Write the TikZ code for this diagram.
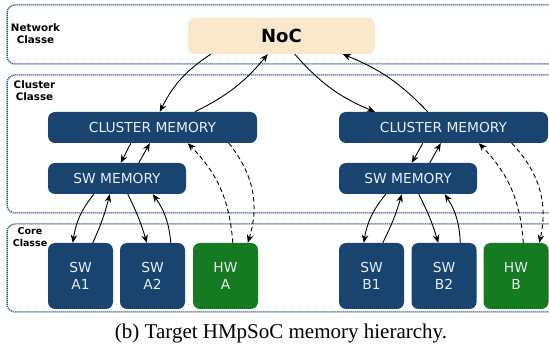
\documentclass[tikz,border=0pt]{standalone}
\usepackage{fontspec}
\setmainfont{DejaVu Sans}
\newfontfamily\capfont{Liberation Serif}
\usetikzlibrary{arrows.meta}
\definecolor{boxblue}{HTML}{18446F}
\definecolor{boxgreen}{HTML}{147B20}
\definecolor{nocfill}{HTML}{F9E8CB}
\definecolor{dotline}{HTML}{2F5887}
\definecolor{boxtext}{HTML}{E6EDF4}
\tikzset{
  classbox/.style={draw=dotline, line width=1.5pt, dash pattern=on 1.1pt off 0.9pt, rounded corners=8pt},
  classlabel/.style={font=\bfseries\fontsize{10.3}{12}\selectfont, align=center, inner sep=0pt},
  membox/.style={fill=boxblue, rounded corners=7pt, text=boxtext, inner sep=0pt,
     font=\fontsize{13.8}{17}\selectfont, align=center},
  hwbox/.style={membox, fill=boxgreen},
  link/.style={-{Stealth[length=8pt,width=6.5pt]}, line width=0.9pt, black},
  dlink/.style={link, dash pattern=on 4.5pt off 3pt},
}
\begin{document}
\begin{tikzpicture}[x=1pt,y=-1pt]
\clip (0,0) rectangle (549,352);
\fill[white] (0,0) rectangle (549,352);
% class boxes
\draw[classbox] (7,5) rectangle (560,64);
\draw[classbox] (7,75) rectangle (560,213);
\draw[classbox] (7,224) rectangle (560,312);
\node[classlabel] (lnet) at (35.5,33.5) {Network\\Classe};
\node[classlabel] (lclu) at (34.5,90.5) {Cluster\\Classe};
\node[classlabel, font=\bfseries\fontsize{9.5}{11.5}\selectfont] (lcor) at (30,237) {Core\\Classe};
% nodes
\node[fill=nocfill, rounded corners=7pt, minimum width=187pt, minimum height=36pt, inner sep=0pt,
      font=\bfseries\fontsize{18}{20}\selectfont] (noc) at (281.5,36) {NoC};
\node[membox, minimum width=209pt, minimum height=31pt] (cmA) at (152.5,127.5) {CLUSTER MEMORY};
\node[membox, minimum width=209pt, minimum height=31pt] (cmB) at (443.5,127.5) {CLUSTER MEMORY};
\node[membox, minimum width=138pt, minimum height=31pt] (smA) at (117,178.5) {SW MEMORY};
\node[membox, minimum width=138pt, minimum height=31pt] (smB) at (408,178.5) {SW MEMORY};
\node[membox, minimum width=65pt, minimum height=66pt] (a1) at (80.5,276) {SW\\A1};
\node[membox, minimum width=65pt, minimum height=66pt] (a2) at (152.5,276) {SW\\A2};
\node[hwbox, minimum width=65pt, minimum height=66pt] (ha) at (225.5,276) {HW\\A};
\node[membox, minimum width=65pt, minimum height=66pt] (b1) at (371.5,276) {SW\\B1};
\node[membox, minimum width=65pt, minimum height=66pt] (b2) at (444,276) {SW\\B2};
\node[hwbox, minimum width=65pt, minimum height=66pt] (hb) at (516,276) {HW\\B};
% NoC <-> cluster memories
\draw[link] ([xshift=23pt]noc.south west) to[bend right=15] ([xshift=112pt]cmA.north west);
\draw[link] ([xshift=147pt]cmA.north west) to[bend right=12] ([xshift=80pt]noc.south west);
\draw[link] ([xshift=107pt]noc.south west) to[bend right=13] ([xshift=36pt]cmB.north west);
\draw[link] ([xshift=89pt]cmB.north west) to[bend right=12] ([xshift=155pt]noc.south west);
% cluster <-> sw memory
\draw[link] ([xshift=83pt]cmA.south west) -- ([xshift=73pt]smA.north west);
\draw[link] ([xshift=91pt]smA.north west) -- ([xshift=102pt]cmA.south west);
\draw[link] ([xshift=84pt]cmB.south west) -- ([xshift=73pt]smB.north west);
\draw[link] ([xshift=91pt]smB.north west) -- ([xshift=102pt]cmB.south west);
% sw memory <-> cores
\draw[link] ([xshift=46pt]smA.south west) to[bend right=15] ([xshift=25pt]a1.north west);
\draw[link] ([xshift=45pt]a1.north west) to[bend right=5] ([xshift=62pt]smA.south west);
\draw[link] ([xshift=80pt]smA.south west) to[bend left=5] ([xshift=27pt]a2.north west);
\draw[link] ([xshift=51pt]a2.north west) to[bend right=15] ([xshift=105pt]smA.south west);
\draw[link] ([xshift=47pt]smB.south west) to[bend right=15] ([xshift=25pt]b1.north west);
\draw[link] ([xshift=44pt]b1.north west) to[bend right=5] ([xshift=63pt]smB.south west);
\draw[link] ([xshift=80pt]smB.south west) to[bend left=5] ([xshift=27pt]b2.north west);
\draw[link] ([xshift=49pt]b2.north west) to[bend right=15] ([xshift=106pt]smB.south west);
% dashed HW links
\draw[dlink] ([xshift=40pt]ha.north west) to[bend right=20] ([xshift=140pt]cmA.south west);
\draw[dlink] ([xshift=181pt]cmA.south west) to[bend left=28] ([xshift=55pt]ha.north west);
\draw[dlink] ([xshift=40pt]hb.north west) to[bend right=20] ([xshift=140pt]cmB.south west);
\draw[dlink] ([xshift=173pt]cmB.south west) to[bend left=28] ([xshift=56pt]hb.north west);
% caption
\node[font=\capfont\fontsize{21}{24}\selectfont, anchor=base] (cap) at (281,339) {(b) Target HMpSoC memory hierarchy.};
\end{tikzpicture}
\end{document}
